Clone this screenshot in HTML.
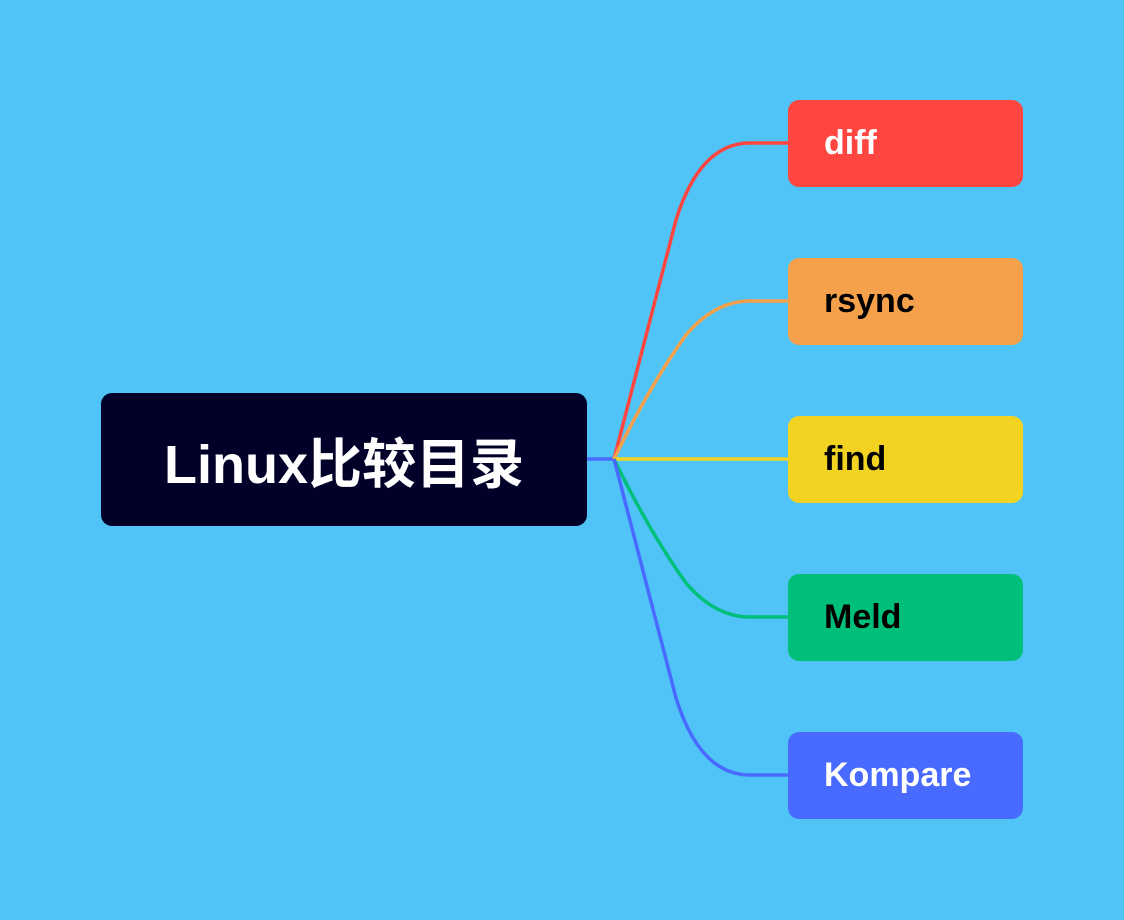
<!DOCTYPE html>
<html><head><meta charset="utf-8"><style>
html,body{margin:0;padding:0;}
body{width:1124px;height:920px;background:#50c4f7;position:relative;overflow:hidden;font-family:"Liberation Sans","Noto Sans CJK SC",sans-serif;}
.root{position:absolute;left:101px;top:393px;width:486px;height:133px;background:#000028;border-radius:11px;color:#fff;font-weight:bold;font-size:54px;display:flex;align-items:center;justify-content:center;}
.n{position:absolute;left:788px;width:235px;height:87px;border-radius:11px;font-size:34px;font-weight:bold;line-height:87px;box-sizing:border-box;padding-left:36px;}
svg{position:absolute;left:0;top:0;}
</style></head><body>
<svg width="1124" height="920" fill="none" stroke-width="3.5">
<path d="M587 459 L614 459" stroke="#486aff"/>
<path d="M614 459 L676 220 Q700 143 750 143 L788 143" stroke="#ff4540"/>
<path d="M614 459 Q650 385 686 335 Q715 301 750 301 L788 301" stroke="#f5a14c"/>
<path d="M614 459 L788 459" stroke="#f2d321"/>
<path d="M614 459 Q650 533 686 583 Q715 617 750 617 L788 617" stroke="#00bf7a"/>
<path d="M614 459 L676 698 Q700 775 750 775 L788 775" stroke="#486aff"/>
</svg>
<div class="root">Linux比较目录</div>
<div class="n" style="top:100px;background:#ff4540;color:#fff">diff</div>
<div class="n" style="top:258px;background:#f5a14c;color:#000">rsync</div>
<div class="n" style="top:416px;background:#f2d321;color:#000">find</div>
<div class="n" style="top:574px;background:#00bf7a;color:#000">Meld</div>
<div class="n" style="top:732px;background:#486aff;color:#fff">Kompare</div>
</body></html>
